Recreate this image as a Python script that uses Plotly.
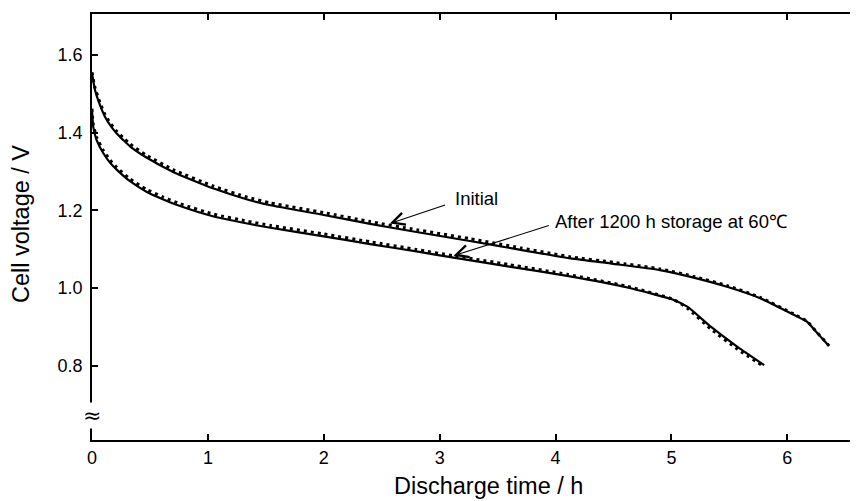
import plotly.graph_objects as go

# ---- data ----
upper_x = [0, 0.026, 0.069, 0.112, 0.155, 0.213, 0.27, 0.328, 0.47, 0.70, 1.05,
           1.34, 1.54, 2.0, 2.4, 2.8, 3.26, 3.7, 4.13, 4.5, 4.9, 5.2, 5.48,
           5.77, 6.06, 6.17, 6.26, 6.36]
upper_solid = [1.554, 1.510, 1.471, 1.441, 1.420, 1.398, 1.381, 1.365, 1.336,
               1.299, 1.256, 1.228, 1.213, 1.188, 1.165, 1.144, 1.121, 1.098,
               1.076, 1.062, 1.046, 1.026, 1.003, 0.973, 0.930, 0.913, 0.883,
               0.850]
upper_dashed = [1.556, 1.516, 1.477, 1.447, 1.426, 1.404, 1.387, 1.371, 1.342,
                1.305, 1.262, 1.234, 1.219, 1.194, 1.171, 1.150, 1.127, 1.103,
                1.080, 1.066, 1.049, 1.029, 1.006, 0.975, 0.932, 0.914, 0.884,
                0.851]

lower_x = [0, 0.011, 0.04, 0.098, 0.155, 0.213, 0.328, 0.47, 0.616, 0.76, 1.05,
           1.34, 1.54, 2.0, 2.4, 2.8, 3.12, 3.6, 4.1, 4.62, 5.02, 5.14, 5.34,
           5.57, 5.80]
lower_solid = [1.458, 1.415, 1.381, 1.347, 1.323, 1.305, 1.275, 1.248, 1.228,
               1.211, 1.184, 1.166, 1.155, 1.133, 1.113, 1.094, 1.078, 1.055,
               1.031, 1.001, 0.969, 0.951, 0.900, 0.848, 0.801]
lower_dashed = [1.462, 1.421, 1.388, 1.354, 1.330, 1.311, 1.281, 1.254, 1.234,
                1.217, 1.190, 1.172, 1.161, 1.139, 1.119, 1.099, 1.083, 1.060,
                1.035, 1.004, 0.970, 0.947, 0.894, 0.842, 0.797]

x_ticks = [0, 1, 2, 3, 4, 5, 6]
y_ticks = [0.8, 1.0, 1.2, 1.4, 1.6]
y_tick_labels = ["0.8", "1.0", "1.2", "1.4", "1.6"]

label_initial = "Initial"
label_after = "After 1200 h storage at 60℃"

FONT = "Liberation Sans, Arial, Helvetica, sans-serif"

fig = go.Figure()
for xs, ys in [(upper_x, upper_solid), (lower_x, lower_solid)]:
    fig.add_trace(go.Scatter(x=xs, y=ys, mode="lines",
                             line=dict(color="black", width=2.2, shape="spline", smoothing=0.5),
                             showlegend=False, hoverinfo="skip"))
for xs, ys in [(upper_x, upper_dashed), (lower_x, lower_dashed)]:
    fig.add_trace(go.Scatter(x=xs, y=ys, mode="lines",
                             line=dict(color="black", width=3, dash="3px,4px",
                                       shape="spline", smoothing=0.5),
                             showlegend=False, hoverinfo="skip"))

# arrows
fig.add_annotation(x=2.57, y=1.166, ax=3.06, ay=1.215, xref="x", yref="y",
                   axref="x", ayref="y", text="", showarrow=True,
                   arrowhead=5, arrowsize=2.2, arrowwidth=1.1, arrowcolor="black")
fig.add_annotation(x=3.12, y=1.083, ax=3.955, ay=1.162, xref="x", yref="y",
                   axref="x", ayref="y", text="", showarrow=True,
                   arrowhead=5, arrowsize=2.2, arrowwidth=1.1, arrowcolor="black")
# labels
fig.add_annotation(x=3.115, y=1.231, xref="x", yref="y", text=label_initial,
                   showarrow=False, xanchor="left", yanchor="middle",
                   font=dict(family=FONT, size=18.5, color="black"))
fig.add_annotation(x=3.98, y=1.170, xref="x", yref="y", text=label_after,
                   showarrow=False, xanchor="left", yanchor="middle",
                   font=dict(family=FONT, size=18.5, color="black"))

# axis break mark
fig.add_annotation(x=0, y=0.67, xref="x", yref="y", text="≈", showarrow=False,
                   bgcolor="white", borderpad=0,
                   font=dict(family="DejaVu Sans", size=22, color="black"),
                   xanchor="center", yanchor="middle")

# axis titles
fig.add_annotation(x=-0.0927, y=0.507, xref="paper", yref="paper",
                   text="Cell voltage / V", textangle=-90, showarrow=False,
                   xanchor="center", yanchor="middle",
                   font=dict(family=FONT, size=23.5, color="black"))
fig.add_annotation(x=0.518, y=-0.1432, xref="paper", yref="paper",
                   text="Discharge time / h", showarrow=False,
                   xanchor="center", yanchor="bottom",
                   font=dict(family=FONT, size=23.5, color="black"))

fig.update_xaxes(range=[0, 6.61], tickvals=x_ticks, ticktext=[str(v) for v in x_ticks],
                 ticks="inside", ticklen=6, tickwidth=1.5, tickcolor="black",
                 showline=True, linecolor="black", linewidth=1.8, mirror="ticks",
                 showgrid=False, zeroline=False,
                 tickfont=dict(family=FONT, size=18, color="black"))
fig.update_yaxes(range=[0.608, 1.706], tickvals=y_ticks, ticktext=y_tick_labels,
                 ticks="inside", ticklen=6, tickwidth=1.5, tickcolor="black",
                 showline=True, linecolor="black", linewidth=1.8,
                 showgrid=False, zeroline=False, ticklabelstandoff=4,
                 tickfont=dict(family=FONT, size=18, color="black"))

# page body has an 8px default margin, so the figure is shifted by 8px
fig.update_layout(width=850, height=493,
                  margin=dict(l=84, r=0, t=6, b=61),
                  paper_bgcolor="white", plot_bgcolor="white",
                  showlegend=False)

fig.write_html("out.html")
